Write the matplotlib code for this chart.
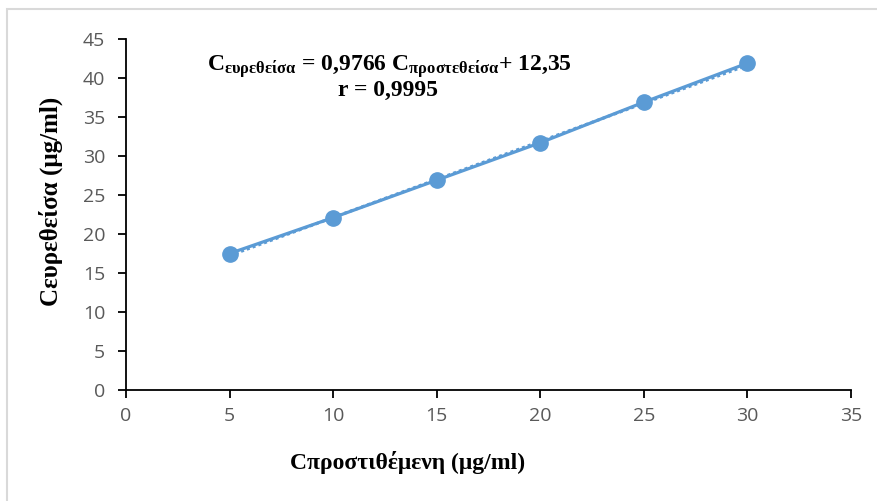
import matplotlib
matplotlib.use("Agg")
import matplotlib.pyplot as plt
from matplotlib.patches import Rectangle

# added concentration (x) vs found concentration (y), μg/ml
c_added = [5, 10, 15, 20, 25, 30]
c_found = [17.5, 22.1, 26.9, 31.7, 36.9, 41.9]

# linear fit reported on the chart
slope = 0.9766
intercept = 12.35
r_value = "0,9995"

x_ticks = [0, 5, 10, 15, 20, 25, 30, 35]
y_ticks = [0, 5, 10, 15, 20, 25, 30, 35, 40, 45]

blue = "#5B9BD5"
W, H = 878, 501

plt.rcParams["mathtext.fontset"] = "custom"
plt.rcParams["mathtext.rm"] = "Liberation Serif:bold"
plt.rcParams["mathtext.it"] = "Liberation Serif:bold"
plt.rcParams["mathtext.bf"] = "Liberation Serif:bold"

fig = plt.figure(figsize=(W / 100, H / 100), dpi=100)
ax = fig.add_axes([126 / W, 1 - 390 / H, (851 - 126) / W, (390 - 39) / H])

# outer frame of the chart area
fig.patches.append(Rectangle((7 / W, -0.05), 1.05, 1 - 9 / H + 0.05,
                             transform=fig.transFigure, fill=False,
                             edgecolor="#d9d9d9", linewidth=1.5))

# trendline (dotted) and data series
fit_x = [c_added[0], c_added[-1]]
fit_y = [slope * v + intercept for v in fit_x]
ax.plot(fit_x, fit_y, linestyle=(0, (1, 1)), color=blue, linewidth=2.2, zorder=2)
ax.plot(c_added, c_found, color=blue, linewidth=2.3, marker="o",
        markersize=11, zorder=3)

ax.set_xlim(0, 35)
ax.set_ylim(0, 45)
ax.set_xticks(x_ticks)
ax.set_yticks(y_ticks)

for s in ["top", "right"]:
    ax.spines[s].set_visible(False)
for s in ["left", "bottom"]:
    ax.spines[s].set_linewidth(1.3)
    ax.spines[s].set_color("black")

ax.tick_params(direction="out", length=6, width=1.3, colors="black",
               labelcolor="#595959", labelsize=14)
ax.tick_params(axis="y", pad=9)
ax.tick_params(axis="x", pad=6)
for lab in ax.get_xticklabels() + ax.get_yticklabels():
    lab.set_fontfamily("Open Sans")

# axis titles
fig.text(408 / W, 1 - 463 / H, "Cπροστιθέμενη (μg/ml)", ha="center",
         va="center", family="Liberation Serif", fontweight="bold",
         fontsize=17)
fig.text(51 / W, 1 - 201 / H, "Cευρεθείσα (μg/ml)", ha="center",
         va="center", rotation=90, family="Liberation Serif",
         fontweight="bold", fontsize=18)

eq = (r"$\mathrm{C_{ευρεθείσα}}$ = 0,9766 "
      r"$\mathrm{C_{προστεθείσα}}$+ 12,35")
ax.text(0.364, 0.92, eq, transform=ax.transAxes, ha="center", va="center",
        family="Liberation Serif", fontweight="bold", fontsize=17)
ax.text(0.362, 0.852, "r = " + r_value, transform=ax.transAxes,
        ha="center", va="center", family="Liberation Serif",
        fontweight="bold", fontsize=17)

fig.savefig("out.png", dpi=100)
